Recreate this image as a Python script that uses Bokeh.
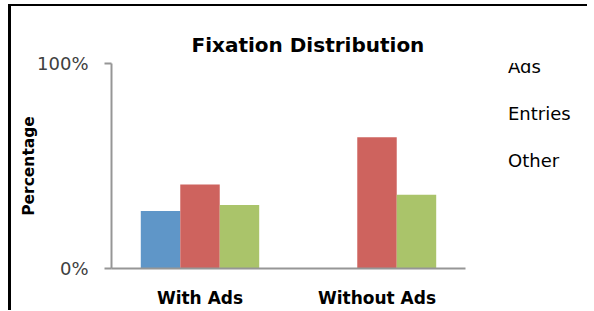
from bokeh.plotting import figure
from bokeh.layouts import row
from bokeh.models import (FactorRange, Range1d, FixedTicker, NumeralTickFormatter,
                          Legend, LegendItem, ColumnDataSource)
from bokeh.transform import dodge
from bokeh.embed import file_html
from bokeh.resources import INLINE

categories = ["With Ads", "Without Ads"]
series = ["Ads", "Entries", "Other"]
ads = [0.28, 0.0]
entries = [0.41, 0.64]
other = [0.31, 0.36]
y_ticks = [0, 1]

colors = ["#5F96C8", "#CE635E", "#AAC46A"]

src = ColumnDataSource(dict(cat=categories, Ads=ads, Entries=entries, Other=other))

p = figure(width=456, height=304, x_range=FactorRange(*categories, range_padding=0),
           y_range=Range1d(0, 1), output_backend="svg", toolbar_location=None,
           min_border_left=100, min_border_right=2, min_border_top=57,
           min_border_bottom=35)
p.outline_line_color = None
p.background_fill_color = "white"

bw = 0.223
for i, (s, c) in enumerate(zip(series, colors)):
    p.vbar(x=dodge("cat", (i - 1) * bw, range=p.x_range), top=s, width=bw,
           bottom=0, source=src, fill_color=c, line_color=None)

# title
p.title.text = "Fixation Distribution"
p.title.text_font = "DejaVu Sans"
p.title.text_font_size = "20px"
p.title.text_font_style = "bold"
p.title.text_color = "black"
p.title.align = "left"
p.title.offset = 80
p.title.standoff = 14

# y axis
p.yaxis.ticker = FixedTicker(ticks=y_ticks)
p.yaxis.formatter = NumeralTickFormatter(format="0%")
p.yaxis.axis_line_color = "#969696"
p.yaxis.axis_line_width = 2
p.yaxis.major_tick_line_color = "#969696"
p.yaxis.major_tick_line_width = 2
p.yaxis.major_tick_out = 7
p.yaxis.major_tick_in = 0
p.yaxis.minor_tick_line_color = None
p.yaxis.major_label_text_font = "DejaVu Sans"
p.yaxis.major_label_text_font_size = "18px"
p.yaxis.major_label_text_color = "#404040"
p.yaxis.major_label_standoff = 16
p.yaxis.axis_label = "Percentage"
p.yaxis.axis_label_text_font = "DejaVu Sans"
p.yaxis.axis_label_text_font_size = "15.5px"
p.yaxis.axis_label_text_font_style = "bold"
p.yaxis.axis_label_text_color = "black"
p.yaxis.axis_label_standoff = -4

p.ygrid.ticker = FixedTicker(ticks=y_ticks)
p.ygrid.grid_line_color = "#969696"
p.ygrid.grid_line_width = 2
p.xgrid.grid_line_color = None

# x axis
p.xaxis.axis_line_color = "#969696"
p.xaxis.axis_line_width = 2
p.xaxis.major_tick_line_color = None
p.xaxis.minor_tick_line_color = None
p.xaxis.major_label_standoff = 13
p.xaxis.major_label_text_font = "DejaVu Sans"
p.xaxis.major_label_text_font_size = "17px"
p.xaxis.major_label_text_font_style = "bold"
p.xaxis.major_label_text_color = "black"

# legend in a narrow companion figure to the right
pl = figure(width=120, height=304, x_range=Range1d(0, 1), y_range=Range1d(0, 1),
            output_backend="svg", toolbar_location=None, min_border=0,
            x_axis_location=None, y_axis_location=None)
pl.outline_line_color = None
pl.xgrid.grid_line_color = None
pl.ygrid.grid_line_color = None
empty = ColumnDataSource(dict(x=[], top=[]))
items = []
for s, c in zip(series, colors):
    r = pl.vbar(x="x", top="top", width=0.1, source=empty, fill_color=c, line_color=None)
    items.append(LegendItem(label=s, renderers=[r]))

legend = Legend(items=items, location=(21, 97), orientation="vertical")
legend.padding = 0
legend.margin = 0
legend.border_line_color = None
legend.background_fill_alpha = 0
legend.glyph_width = 15
legend.glyph_height = 15
legend.label_height = 18
legend.spacing = 26
legend.label_standoff = 5
legend.label_text_font = "DejaVu Sans"
legend.label_text_font_size = "18px"
legend.label_text_color = "black"
legend.label_text_baseline = "middle"
pl.add_layout(legend, "center")

layout = row(p, pl, spacing=0)
layout.styles = {"box-sizing": "content-box", "margin-left": "8px", "margin-top": "4px",
                 "border-top": "2px solid black", "border-left": "3px solid black"}

open("out.html", "w").write(file_html(layout, INLINE))
